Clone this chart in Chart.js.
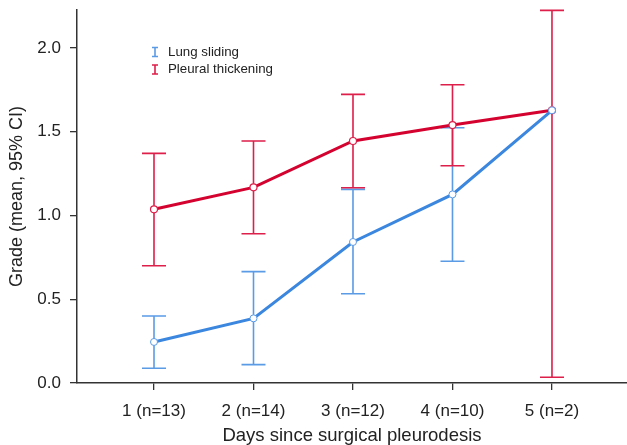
<!DOCTYPE html>
<html>
<head>
<meta charset="utf-8">
<script src="https://cdn.jsdelivr.net/npm/chart.js@4.4.1/dist/chart.umd.min.js"></script>
<style>
  html, body { margin: 0; padding: 0; background: #fff; }
  #wrap { width: 627px; height: 445px; position: relative; }
</style>
</head>
<body>
<div id="wrap"><canvas id="c" width="627" height="445"></canvas></div>
<script>
// ---- data ----
const categories = ["1 (n=13)", "2 (n=14)", "3 (n=12)", "4 (n=10)", "5 (n=2)"];
const dayIndex = [1, 2, 3, 4, 5];
const yTickValues = [0, 0.5, 1.0, 1.5, 2.0];

const seriesNames = ["Lung sliding", "Pleural thickening"];

const lungMean  = [0.245, 0.386, 0.842, 1.126, 1.628];
const lungLow   = [0.088, 0.110, 0.533, 0.727, 1.628];
const lungHigh  = [0.400, 0.665, 1.156, 1.524, 1.628];

const pleuralMean = [1.037, 1.168, 1.445, 1.540, 1.628];
const pleuralLow  = [0.700, 0.891, 1.166, 1.297, 0.034];
const pleuralHigh = [1.371, 1.445, 1.723, 1.781, 2.225];

// ---- styles ----
const BLUE_LINE = '#3b86de';
const BLUE_BAR = '#5b9be6';
const RED_LINE = '#d4022f';
const RED_BAR = '#dd1f4a';
const AXIS = '#333333';
const TEXT = '#222222';
const FONT = "'Liberation Sans', Arial, Helvetica, sans-serif";

function pts(means) { return dayIndex.map((d, i) => ({ x: d, y: means[i] })); }

const errorBars = {
  id: 'errorBars',
  beforeDatasetsDraw(chart) {
    const { ctx, scales: { x, y } } = chart;
    chart.data.datasets.forEach((ds, di) => {
      const meta = chart.getDatasetMeta(di);
      if (meta.hidden) return;
      ctx.save();
      ctx.strokeStyle = ds.errColor;
      ctx.lineWidth = 1.6;
      const half = 12;
      ds.data.forEach((p, i) => {
        const lo = ds.low[i], hi = ds.high[i];
        if (lo === hi) return;
        const px = x.getPixelForValue(p.x);
        const yl = y.getPixelForValue(lo);
        const yh = y.getPixelForValue(hi);
        ctx.beginPath();
        ctx.moveTo(px, yl); ctx.lineTo(px, yh);
        ctx.moveTo(px - half, yl); ctx.lineTo(px + half, yl);
        ctx.moveTo(px - half, yh); ctx.lineTo(px + half, yh);
        ctx.stroke();
      });
      ctx.restore();
    });
  }
};

const customLegend = {
  id: 'customLegend',
  afterDraw(chart) {
    const { ctx, chartArea } = chart;
    const x0 = chartArea.left + 78;
    const y0 = chartArea.top + 42;
    ctx.save();
    chart.data.datasets.forEach((ds, i) => {
      const yc = y0 + i * 17.5;
      ctx.strokeStyle = ds.errColor;
      ctx.lineWidth = 1.6;
      ctx.beginPath();
      ctx.moveTo(x0, yc - 4.5); ctx.lineTo(x0, yc + 4.5);
      ctx.moveTo(x0 - 3, yc - 4.5); ctx.lineTo(x0 + 3, yc - 4.5);
      ctx.moveTo(x0 - 3, yc + 4.5); ctx.lineTo(x0 + 3, yc + 4.5);
      ctx.stroke();
      ctx.fillStyle = TEXT;
      ctx.font = "13.3px " + FONT;
      ctx.textBaseline = 'middle';
      ctx.textAlign = 'left';
      ctx.fillText(ds.label, x0 + 13, yc);
    });
    ctx.restore();
  }
};

new Chart(document.getElementById('c'), {
  type: 'line',
  data: {
    datasets: [
      {
        label: seriesNames[0],
        data: pts(lungMean),
        low: lungLow, high: lungHigh,
        errColor: BLUE_BAR,
        borderColor: BLUE_LINE,
        borderWidth: 3,
        pointRadius: 3.5,
        pointBorderWidth: 1,
        pointBackgroundColor: '#ffffff',
        pointBorderColor: BLUE_BAR,
        fill: false,
        tension: 0
      },
      {
        label: seriesNames[1],
        data: pts(pleuralMean),
        low: pleuralLow, high: pleuralHigh,
        errColor: RED_BAR,
        borderColor: RED_LINE,
        borderWidth: 3,
        pointRadius: 3.5,
        pointBorderWidth: 1.2,
        pointBackgroundColor: '#ffffff',
        pointBorderColor: RED_BAR,
        fill: false,
        tension: 0
      }
    ]
  },
  options: {
    responsive: false,
    animation: false,
    devicePixelRatio: 1,
    layout: { autoPadding: false, padding: { left: 0, right: 0, top: 10, bottom: 0 } },
    plugins: { legend: { display: false }, tooltip: { enabled: false } },
    scales: {
      x: {
        type: 'linear',
        min: 0.226,
        max: 5.754,
        afterBuildTicks(scale) { scale.ticks = dayIndex.map(v => ({ value: v })); },
        afterFit(scale) { scale.height = 62; scale.paddingLeft = 0; scale.paddingRight = 0; },
        ticks: {
          callback: (v) => categories[dayIndex.indexOf(v)] ?? '',
          color: TEXT,
          font: { family: FONT, size: 17 },
          padding: 11,
          maxRotation: 0,
          autoSkip: false
        },
        grid: { display: true, drawOnChartArea: false, drawTicks: true, tickLength: 7, color: AXIS, lineWidth: 1.3 },
        border: { display: true, color: AXIS, width: 1.5 },
        title: {
          display: true,
          text: 'Days since surgical pleurodesis',
          color: TEXT,
          font: { family: FONT, size: 18.5, lineHeight: 1 },
          padding: { top: 0, bottom: 0 }
        }
      },
      y: {
        type: 'linear',
        min: 0,
        max: 2.227,
        afterBuildTicks(scale) { scale.ticks = yTickValues.map(v => ({ value: v })); },
        afterFit(scale) { scale.width = 77; scale.paddingTop = 0; scale.paddingBottom = 0; },
        ticks: {
          callback: (v) => v.toFixed(1),
          color: TEXT,
          font: { family: FONT, size: 17 },
          padding: 9
        },
        grid: { display: true, drawOnChartArea: false, drawTicks: true, tickLength: 7, color: AXIS, lineWidth: 1.3 },
        border: { display: true, color: AXIS, width: 1.5 },
        title: {
          display: true,
          text: 'Grade (mean, 95% CI)',
          color: TEXT,
          font: { family: FONT, size: 18, lineHeight: 1 },
          padding: { top: 8, bottom: 0 }
        }
      }
    }
  },
  plugins: [errorBars, customLegend]
});
</script>
</body>
</html>
